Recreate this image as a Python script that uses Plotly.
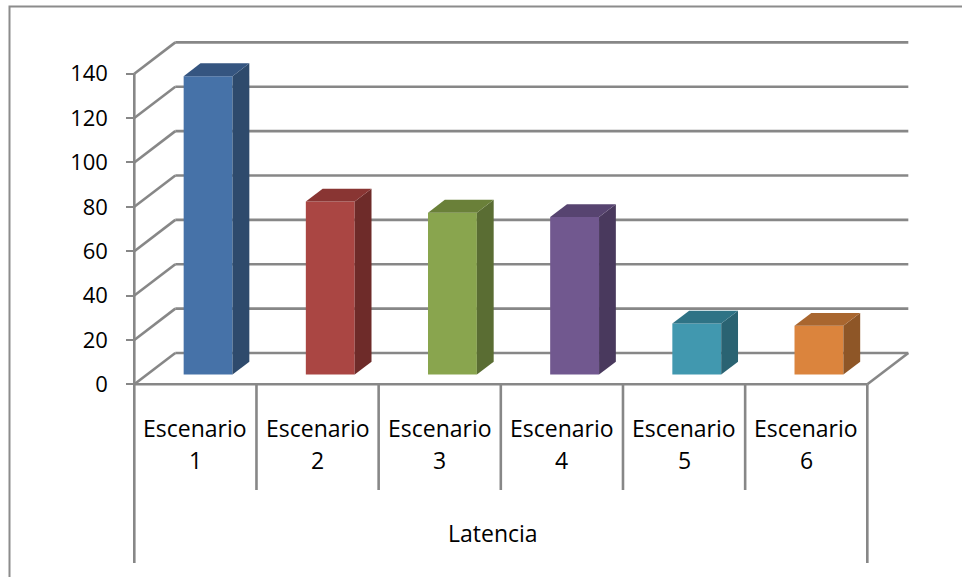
import plotly.graph_objects as go

# ---- data -------------------------------------------------------------
categories = ["Escenario 1", "Escenario 2", "Escenario 3",
              "Escenario 4", "Escenario 5", "Escenario 6"]
latencia = [134.5, 78, 73, 71, 23, 22]
y_ticks = [0, 20, 40, 60, 80, 100, 120, 140]
group_label = "Latencia"

front_colors = ["#4672A8", "#AA4643", "#89A54E", "#71588F", "#4198AF", "#DB843D"]
side_colors = ["#2E4A6C", "#6E2B29", "#5A6D33", "#49395D", "#2A6372", "#8E5627"]
top_colors = ["#355580", "#893533", "#6A8039", "#574470", "#2F7385", "#A9662F"]

# ---- oblique-view geometry (pixels) -------------------------------------
W, H = 962, 577
X0, Y0 = 134.3, 384.3          # front-left corner of the floor
CAT_PX = 122.17                # width of one category on the front edge
UNIT_PX = 2.2186               # pixels per value unit
DEPTH_X_PX, DEPTH_Y_PX = 41.0, 31.3

n = len(categories)
DX = DEPTH_X_PX / CAT_PX       # depth offset in category units
DY = DEPTH_Y_PX / UNIT_PX      # depth offset in value units
x_range = [-X0 / CAT_PX, (W - X0) / CAT_PX]
y_range = [-(H - Y0) / UNIT_PX, Y0 / UNIT_PX]


def py(pix):
    """vertical pixel position -> value axis coordinate"""
    return (Y0 - pix) / UNIT_PX


def px(pix):
    """horizontal pixel position -> category axis coordinate"""
    return (pix - X0) / CAT_PX


BAR_W = 0.40
D_FRONT, D_BACK = 0.31, 0.72   # bar depth inside the box (fractions)

GRID = "#878787"
LW = 2.6

shapes = []


def seg(x0, y0, x1, y1, color=GRID, width=LW):
    shapes.append(dict(type="line", xref="x", yref="y", x0=x0, y0=y0,
                       x1=x1, y1=y1, layer="below",
                       line=dict(color=color, width=width)))


# back wall gridlines and side-wall diagonals
for v in y_ticks:
    seg(DX, v + DY, n + DX, v + DY)
    seg(0, v, DX, v + DY)

# floor front edge and right floor edge
seg(0, 0, n, 0)
seg(n, 0, n + DX, DY)

# front value axis line, running down through the category box
axis_bottom = py(563)
sep_bottom = py(490)
seg(0, y_ticks[-1], 0, axis_bottom)
seg(n, 0, n, axis_bottom)
for i in range(1, n):
    seg(i, 0, i, sep_bottom)

# outer chart border
shapes.append(dict(type="rect", xref="paper", yref="paper",
                   x0=9.5 / W, x1=1.05, y0=-0.05, y1=1 - 6.5 / H,
                   layer="below", line=dict(color="#8C8C8C", width=2)))

fig = go.Figure()

# front faces of the columns
xc = [i + 0.5 + D_FRONT * DX for i in range(n)]
base = D_FRONT * DY
fig.add_trace(go.Bar(
    x=xc, y=latencia, base=[base] * n, width=BAR_W,
    marker=dict(color=front_colors, line=dict(width=0)),
    hoverinfo="skip", showlegend=False,
))

# side and top faces
ddx = (D_BACK - D_FRONT) * DX
ddy = (D_BACK - D_FRONT) * DY
for i, v in enumerate(latencia):
    xl, xr = xc[i] - BAR_W / 2, xc[i] + BAR_W / 2
    yb, yt = base, base + v
    fig.add_trace(go.Scatter(
        x=[xr, xr + ddx, xr + ddx, xr, xr],
        y=[yb, yb + ddy, yt + ddy, yt, yb],
        fill="toself", fillcolor=side_colors[i], mode="lines",
        line=dict(width=0), hoverinfo="skip", showlegend=False,
    ))
    fig.add_trace(go.Scatter(
        x=[xl, xr, xr + ddx, xl + ddx, xl],
        y=[yt, yt, yt + ddy, yt + ddy, yt],
        fill="toself", fillcolor=top_colors[i], mode="lines",
        line=dict(width=0), hoverinfo="skip", showlegend=False,
    ))

FONT = "Open Sans"
LABEL_FONT = dict(family=FONT, size=23, color="#000")
annotations = []
for i, cat in enumerate(categories):
    word, num = cat.split(" ")
    annotations.append(dict(x=i + 0.5, y=py(428), xref="x", yref="y",
                            text=word, showarrow=False, font=LABEL_FONT))
    annotations.append(dict(x=i + 0.5, y=py(460), xref="x", yref="y",
                            text=num, showarrow=False, font=LABEL_FONT))
annotations.append(dict(x=px(493.3), y=py(533), xref="x", yref="y",
                        text=group_label, showarrow=False, font=LABEL_FONT))

fig.update_layout(
    width=W, height=H,
    margin=dict(l=0, r=0, t=0, b=0),
    paper_bgcolor="white", plot_bgcolor="rgba(0,0,0,0)",
    shapes=shapes, annotations=annotations,
    xaxis=dict(range=x_range, visible=False, fixedrange=True),
    yaxis=dict(range=y_range, anchor="free", position=X0 / W,
               tickvals=y_ticks, ticktext=[str(t) for t in y_ticks],
               ticks="outside", ticklen=8, tickwidth=2, tickcolor=GRID,
               showline=False, showgrid=False, zeroline=False,
               ticklabelstandoff=14,
               tickfont=dict(family=FONT, size=22, color="#000"),
               fixedrange=True),
)

fig.write_html("out.html")
